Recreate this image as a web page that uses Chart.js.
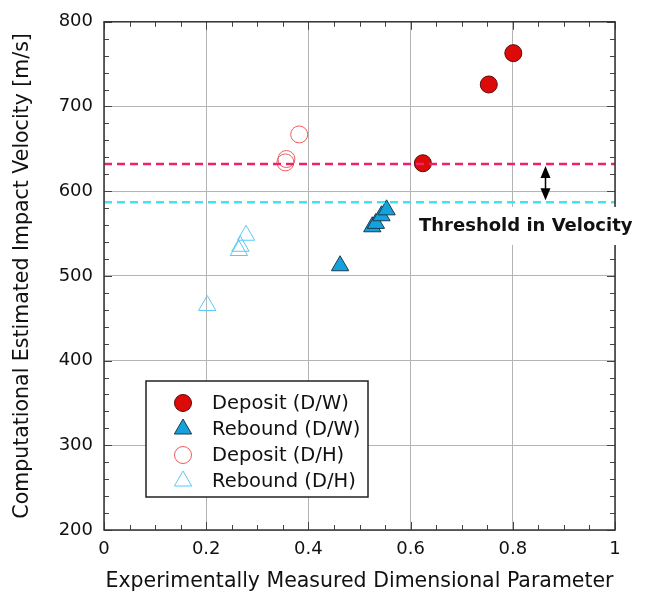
<!DOCTYPE html>
<html>
<head>
<meta charset="utf-8">
<script src="https://cdn.jsdelivr.net/npm/chart.js@4.4.1/dist/chart.umd.min.js"></script>
<style>
  html, body { margin: 0; padding: 0; background: #fff; }
  #wrap { width: 650px; height: 598px; }
</style>
</head>
<body>
<div id="wrap"><canvas id="mycanvas" width="650" height="598"></canvas></div>
<script>
// data
var depositDWx = [0.624, 0.753, 0.801];
var depositDWy = [633, 726, 763];
var reboundDWx = [0.462, 0.525, 0.532, 0.543, 0.553];
var reboundDWy = [512, 558, 562, 571, 578];
var depositDHx = [0.355, 0.357, 0.382];
var depositDHy = [634, 638, 667];
var reboundDHx = [0.202, 0.264, 0.267, 0.278];
var reboundDHy = [465, 530, 535, 548];
var thresholdHigh = 632;
var thresholdLow = 587;
var xTicks = [0, 0.2, 0.4, 0.6, 0.8, 1];
var yTicks = [200, 300, 400, 500, 600, 700, 800];

var FONT = "'DejaVu Sans', sans-serif";

function pts(xs, ys) {
  var out = [];
  for (var i in xs) out.push({x: xs[i], y: ys[i]});
  return out;
}

var series = [
  {label: 'Deposit (D/W)', data: pts(depositDWx, depositDWy), pointStyle: 'circle', pointRadius: 8.5,
   backgroundColor: '#dd0a0a', borderColor: '#5a0a0a', borderWidth: 1},
  {label: 'Rebound (D/W)', data: pts(reboundDWx, reboundDWy), pointStyle: 'triangle', pointRadius: 10,
   backgroundColor: '#14a2dc', borderColor: '#1b3a52', borderWidth: 1},
  {label: 'Deposit (D/H)', data: pts(depositDHx, depositDHy), pointStyle: 'circle', pointRadius: 8.5,
   backgroundColor: 'rgba(255,255,255,0)', borderColor: '#f05a5a', borderWidth: 1},
  {label: 'Rebound (D/H)', data: pts(reboundDHx, reboundDHy), pointStyle: 'triangle', pointRadius: 10,
   backgroundColor: 'rgba(255,255,255,0)', borderColor: '#5cc8f2', borderWidth: 1}
];

var datasets = [
  {type: 'line', label: 'high', data: [{x: 0, y: thresholdHigh}, {x: 1, y: thresholdHigh}],
   borderColor: '#f0206e', borderWidth: 2.5, borderDash: [8, 5], pointRadius: 0, fill: false},
  {type: 'line', label: 'low', data: [{x: 0, y: thresholdLow}, {x: 1, y: thresholdLow}],
   borderColor: '#3ee4f2', borderWidth: 2.5, borderDash: [8, 5], pointRadius: 0, fill: false}
];
for (var i in series) {
  var s = series[i];
  s.type = 'scatter';
  s.pointHoverRadius = s.pointRadius;
  datasets.push(s);
}

function drawMarker(ctx, style, x, y, r, fill, stroke) {
  ctx.beginPath();
  if (style == 'circle') {
    ctx.arc(x, y, r, 0, Math.PI * 2);
  } else {
    var h = r * 1.5;
    ctx.moveTo(x, y - h * 2 / 3);
    ctx.lineTo(x + h / Math.sqrt(3), y + h / 3);
    ctx.lineTo(x - h / Math.sqrt(3), y + h / 3);
    ctx.closePath();
  }
  ctx.fillStyle = fill;
  ctx.fill();
  ctx.strokeStyle = stroke;
  ctx.lineWidth = 1;
  ctx.stroke();
}

var extras = {
  id: 'extras',
  afterDraw: function(chart) {
    var ctx = chart.ctx;
    var xs = chart.scales.x, ys = chart.scales.y;
    var a = chart.chartArea;
    ctx.save();

    // minor + major ticks pointing inward on all four sides
    ctx.strokeStyle = '#444';
    ctx.lineWidth = 1;
    ctx.beginPath();
    for (var k = 0; k <= 20; k++) {
      var v = k * 0.05;
      var px = Math.round(xs.getPixelForValue(v)) + 0.5;
      var len = (k % 4 == 0) ? 8 : 5;
      ctx.moveTo(px, a.bottom); ctx.lineTo(px, a.bottom - len);
      ctx.moveTo(px, a.top); ctx.lineTo(px, a.top + len);
    }
    for (var m = 200; m <= 800; m += 20) {
      var py = Math.round(ys.getPixelForValue(m)) + 0.5;
      var len2 = (m % 100 == 0) ? 8 : 5;
      ctx.moveTo(a.left, py); ctx.lineTo(a.left + len2, py);
      ctx.moveTo(a.right, py); ctx.lineTo(a.right - len2, py);
    }
    ctx.stroke();

    // frame
    ctx.strokeStyle = '#333';
    ctx.lineWidth = 1.5;
    ctx.strokeRect(a.left, a.top, a.right - a.left, a.bottom - a.top);

    // threshold label
    ctx.fillStyle = '#fff';
    ctx.fillRect(416, 207, 234, 38);
    ctx.fillStyle = '#111';
    ctx.font = 'bold 18px ' + FONT;
    ctx.textBaseline = 'middle';
    ctx.textAlign = 'left';
    ctx.fillText('Threshold in Velocity', 419, 226);

    // double arrow
    var ax = xs.getPixelForValue(0.864);
    var y1 = ys.getPixelForValue(thresholdHigh) + 2;
    var y2 = ys.getPixelForValue(thresholdLow) - 2;
    ctx.strokeStyle = '#000';
    ctx.fillStyle = '#000';
    ctx.lineWidth = 1.5;
    ctx.beginPath();
    ctx.moveTo(ax, y1 + 8); ctx.lineTo(ax, y2 - 8);
    ctx.stroke();
    ctx.beginPath();
    ctx.moveTo(ax, y1); ctx.lineTo(ax + 5, y1 + 12); ctx.lineTo(ax - 5, y1 + 12); ctx.closePath();
    ctx.fill();
    ctx.beginPath();
    ctx.moveTo(ax, y2); ctx.lineTo(ax + 5, y2 - 12); ctx.lineTo(ax - 5, y2 - 12); ctx.closePath();
    ctx.fill();

    // legend box
    ctx.fillStyle = '#fff';
    ctx.fillRect(146, 381, 222, 116);
    ctx.strokeStyle = '#222';
    ctx.lineWidth = 1.5;
    ctx.strokeRect(146, 381, 222, 116);
    ctx.font = '19.5px ' + FONT;
    ctx.textBaseline = 'middle';
    for (var j in series) {
      var s = series[j];
      var ly = 403 + j * 26;
      drawMarker(ctx, s.pointStyle, 183, ly, s.pointRadius, s.backgroundColor, s.borderColor);
      ctx.fillStyle = '#111';
      ctx.fillText(s.label, 212, ly + 1);
    }
    ctx.restore();
  }
};

var ctx = document.getElementById('mycanvas');
var chart = new Chart(ctx, {
  data: {datasets: datasets},
  options: {
    responsive: false,
    animation: false,
    events: [],
    layout: {padding: {left: 6, right: 35, top: 19, bottom: 0}},
    plugins: {legend: {display: false}, tooltip: {enabled: false}},
    scales: {
      x: {
        type: 'linear', min: 0, max: 1,
        afterBuildTicks: function(scale) { scale.ticks = xTicks.map(function(v) { return {value: v}; }); },
        afterFit: function(scale) { scale.height = 68; },
        grid: {color: '#b4b4b4', lineWidth: 1, drawTicks: false},
        border: {display: false},
        ticks: {color: '#111', font: {family: FONT, size: 18}, padding: 9,
                callback: function(v) { return String(Math.round(v * 10) / 10); }},
        title: {display: true, text: 'Experimentally Measured Dimensional Parameter', color: '#111',
                font: {family: FONT, size: 20.5}, padding: {top: 5}}
      },
      y: {
        type: 'linear', min: 200, max: 800,
        afterBuildTicks: function(scale) { scale.ticks = yTicks.map(function(v) { return {value: v}; }); },
        afterFit: function(scale) { scale.width = 98; },
        grid: {color: '#b4b4b4', lineWidth: 1, drawTicks: false},
        border: {display: false},
        ticks: {color: '#111', font: {family: FONT, size: 18}, padding: 11},
        title: {display: true, text: 'Computational Estimated Impact Velocity [m/s]', color: '#111',
                font: {family: FONT, size: 20.5}, padding: {bottom: 2}}
      }
    }
  },
  plugins: [extras]
});
</script>
</body>
</html>
